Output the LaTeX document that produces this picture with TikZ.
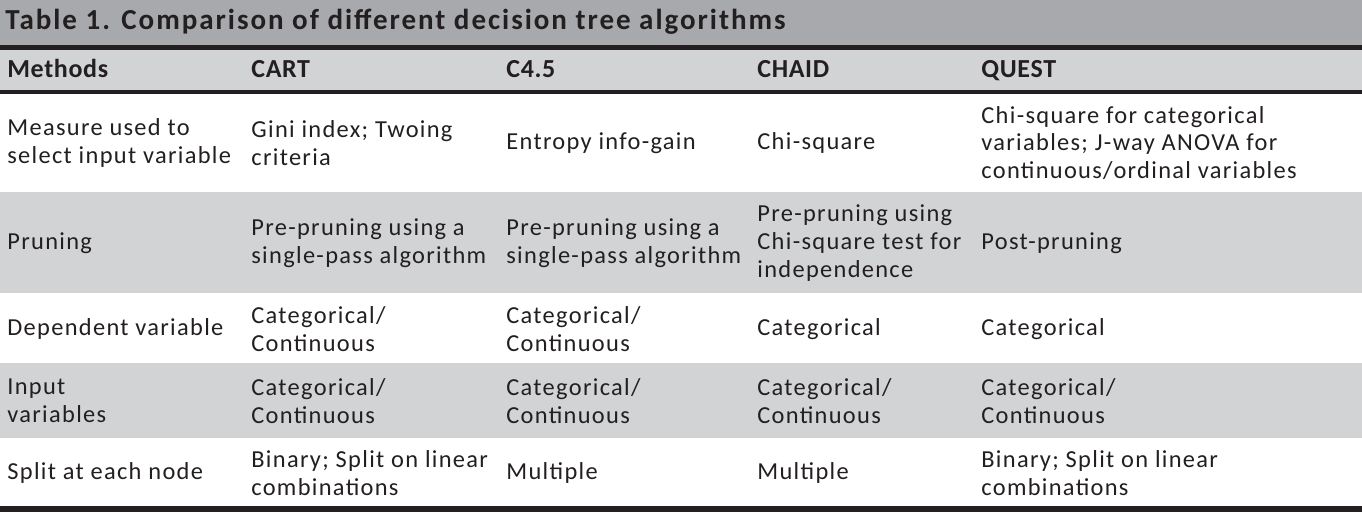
\documentclass[tikz,border=0pt]{standalone}
\usepackage{fontspec}
\setmainfont{Carlito}[LetterSpace=5.4]
\newfontfamily\titlefont{Carlito}[LetterSpace=6.8]
\newfontfamily\headfont{Carlito}[LetterSpace=2.5]
\definecolor{band}{HTML}{A7A9AC}
\definecolor{rowg}{HTML}{D1D3D4}
\definecolor{rule}{HTML}{231F20}
\definecolor{txt}{HTML}{231F20}
\tikzset{
  cell/.style={anchor=west, inner sep=0pt, align=left, text=txt,
    font=\fontsize{12.2}{13.8}\selectfont},
  headcell/.style={anchor=base west, inner sep=0pt, text=txt,
    font=\headfont\fontsize{13}{15}\selectfont\bfseries},
  titlecell/.style={anchor=base west, inner sep=0pt, text=txt,
    font=\titlefont\fontsize{14.5}{16}\selectfont\bfseries},
}
\begin{document}
\begin{tikzpicture}[x=0.5pt,y=-0.5pt]
\useasboundingbox (0,0) rectangle (1362,512);
% bands
\fill[band] (0,0) rectangle (1362,45);
\fill[rule] (0,45) rectangle (1362,50);
\fill[rowg] (0,50) rectangle (1362,90);
\fill[rule] (0,90) rectangle (1362,94);
\fill[white] (0,94) rectangle (1362,192);
\fill[rowg] (0,192) rectangle (1362,293);
\fill[white] (0,293) rectangle (1362,363);
\fill[rowg] (0,363) rectangle (1362,438);
\fill[white] (0,438) rectangle (1362,506);
\fill[rule] (0,506) rectangle (1362,512);
% title
\node[titlecell] (title) at (5,30) {Table 1. Comparison of different decision tree algorithms};
% header
\node[headcell] (h1) at (7,78) {Methods};
\node[headcell] (h2) at (251,78) {CART};
\node[headcell] (h3) at (506,78) {C4.5};
\node[headcell] (h4) at (757,78) {CHAID};
\node[headcell] (h5) at (981,78) {QUEST};
% row 1
\node[cell] (r1c1) at (7,143) {Measure used to\\select input variable};
\node[cell] (r1c2) at (251,143) {Gini index; Twoing\\criteria};
\node[cell] (r1c3) at (506,143) {Entropy info-gain};
\node[cell] (r1c4) at (757,143) {Chi-square};
\node[cell] (r1c5) at (981,143) {Chi-square for categorical\\variables; J-way ANOVA for\\continuous/ordinal variables};
% row 2
\node[cell] (r2c1) at (7,243) {Pruning};
\node[cell] (r2c2) at (251,243) {Pre-pruning using a\\single-pass algorithm};
\node[cell] (r2c3) at (506,243) {Pre-pruning using a\\single-pass algorithm};
\node[cell] (r2c4) at (757,243) {Pre-pruning using\\Chi-square test for\\independence};
\node[cell] (r2c5) at (981,243) {Post-pruning};
% row 3
\node[cell] (r3c1) at (7,329) {Dependent variable};
\node[cell] (r3c2) at (251,329) {Categorical/\\Continuous};
\node[cell] (r3c3) at (506,329) {Categorical/\\Continuous};
\node[cell] (r3c4) at (757,329) {Categorical};
\node[cell] (r3c5) at (981,329) {Categorical};
% row 4
\node[cell] (r4c1) at (7,401) {Input\\variables};
\node[cell] (r4c2) at (251,401) {Categorical/\\Continuous};
\node[cell] (r4c3) at (506,401) {Categorical/\\Continuous};
\node[cell] (r4c4) at (757,401) {Categorical/\\Continuous};
\node[cell] (r4c5) at (981,401) {Categorical/\\Continuous};
% row 5
\node[cell] (r5c1) at (7,473) {Split at each node};
\node[cell] (r5c2) at (251,473) {Binary; Split on linear\\combinations};
\node[cell] (r5c3) at (506,473) {Multiple};
\node[cell] (r5c4) at (757,473) {Multiple};
\node[cell] (r5c5) at (981,473) {Binary; Split on linear\\combinations};
\end{tikzpicture}
\end{document}
